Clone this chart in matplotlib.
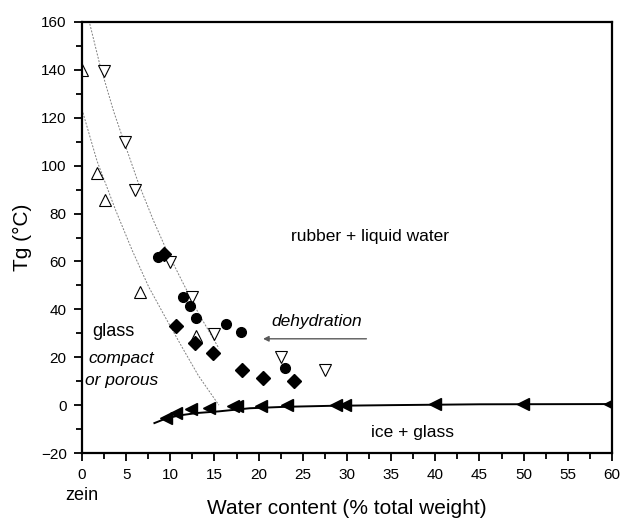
import matplotlib
matplotlib.use("Agg")
import matplotlib.pyplot as plt
from matplotlib.ticker import MultipleLocator

plt.rcParams["font.family"] = ["Liberation Sans", "DejaVu Sans"]

# open up-triangles
up_x = [0.0, 1.7, 2.6, 6.6, 12.9]
up_y = [140.0, 96.8, 85.6, 47.3, 28.8]

# open down-triangles
down_x = [2.5, 4.9, 6.0, 10.0, 12.5, 14.9, 22.5, 27.5]
down_y = [139.7, 110.0, 90.0, 59.8, 45.0, 29.6, 19.9, 14.6]

# filled circles
circ_x = [8.6, 11.4, 12.2, 12.9, 16.3, 18.0, 23.0]
circ_y = [61.7, 45.2, 41.3, 36.2, 33.7, 30.4, 15.3]

# filled diamonds
diam_x = [9.3, 10.6, 12.8, 14.8, 18.1, 20.5, 24.0]
diam_y = [63.0, 33.0, 26.0, 21.6, 14.6, 11.4, 10.0]

# filled left-pointing triangles (ice melting)
left_x = [9.5, 10.6, 12.3, 14.4, 17.1, 17.5, 20.3, 23.2, 28.8, 29.8, 40.0, 49.9, 59.8]
left_y = [-5.2, -3.2, -1.8, -1.1, -0.3, -0.3, -0.3, 0.0, 0.0, 0.0, 0.3, 0.4, 0.4]

# solid guide line through the melting points
melt_x = [8.2, 9.5, 11.0, 13.0, 15.5, 19.0, 23.0, 28.0, 35.0, 45.0, 60.0]
melt_y = [-7.5, -5.6, -4.3, -3.3, -2.6, -1.3, -0.7, -0.3, 0.0, 0.35, 0.45]

# dotted guide curves
upper_x = [0.7, 2.0, 3.6, 4.9, 6.4, 8.1, 9.6, 11.3, 13.2, 15.5]
upper_y = [162.0, 142.5, 122.5, 108.5, 92.6, 77.0, 64.5, 52.0, 38.3, 23.7]
lower_x = [0.0, 1.7, 3.8, 5.7, 7.55, 9.4, 11.3, 13.2, 15.5]
lower_y = [123.5, 102.0, 81.5, 64.5, 49.4, 36.9, 24.4, 12.2, 0.0]


def main() -> None:
    fig = plt.figure(figsize=(6.22, 5.20), dpi=100)
    ax = fig.add_axes([0.1318, 0.1288, 0.8521, 0.8289])

    dot = (0, (2.0, 1.5))
    ax.plot(upper_x, upper_y, color="0.5", linewidth=0.7, linestyle=dot)
    ax.plot(lower_x, lower_y, color="0.5", linewidth=0.7, linestyle=dot)
    ax.plot(melt_x, melt_y, color="black", linewidth=1.4)

    ax.plot(up_x, up_y, linestyle="none", marker="^", markersize=8.5,
            markerfacecolor="white", markeredgecolor="black", markeredgewidth=0.8)
    ax.plot(down_x, down_y, linestyle="none", marker="v", markersize=8.5,
            markerfacecolor="white", markeredgecolor="black", markeredgewidth=0.8)
    ax.plot(circ_x, circ_y, linestyle="none", marker="o", markersize=7,
            color="black")
    ax.plot(diam_x, diam_y, linestyle="none", marker="D", markersize=7,
            color="black")
    ax.plot(left_x, left_y, linestyle="none", marker="<", markersize=8.5,
            color="black")

    ax.set_xlim(0, 60)
    ax.set_ylim(-20, 160)
    ax.xaxis.set_major_locator(MultipleLocator(5))
    ax.xaxis.set_minor_locator(MultipleLocator(2.5))
    ax.yaxis.set_major_locator(MultipleLocator(20))
    ax.yaxis.set_minor_locator(MultipleLocator(10))
    ax.tick_params(which="major", direction="out", length=6, width=1.3,
                   labelsize=11, pad=5)
    ax.tick_params(which="minor", direction="out", length=4, width=1.3)
    for side in ax.spines.values():
        side.set_linewidth(1.6)

    ax.set_xlabel("Water content (% total weight)", fontsize=15, labelpad=12)
    ax.set_ylabel("Tg (\u00b0C)", fontsize=15, labelpad=6)

    ax.text(32.6, 70.6, "rubber + liquid water", fontsize=12.5, ha="center", va="center")
    ax.text(3.5, 30.6, "glass", fontsize=13, ha="center", va="center")
    ax.text(4.4, 19.6, "compact", fontsize=12.5, style="italic", ha="center", va="center")
    ax.text(4.45, 10.2, "or porous", fontsize=12.5, style="italic", ha="center", va="center")
    ax.text(26.6, 34.8, "dehydration", fontsize=12.5, style="italic", ha="center", va="center")
    ax.annotate("", xy=(20.5, 27.7), xytext=(32.2, 27.7),
                arrowprops=dict(arrowstyle="-|>", color="0.35", linewidth=1.0,
                                mutation_scale=8, shrinkA=0, shrinkB=0))
    ax.text(37.4, -11.6, "ice + glass", fontsize=12.5, ha="center", va="center")
    fig.text(82 / 622, 1 - 495 / 520, "zein", fontsize=13, ha="center", va="center")

    fig.savefig("out.png", dpi=100)
    plt.close(fig)


if __name__ == "__main__":
    main()
